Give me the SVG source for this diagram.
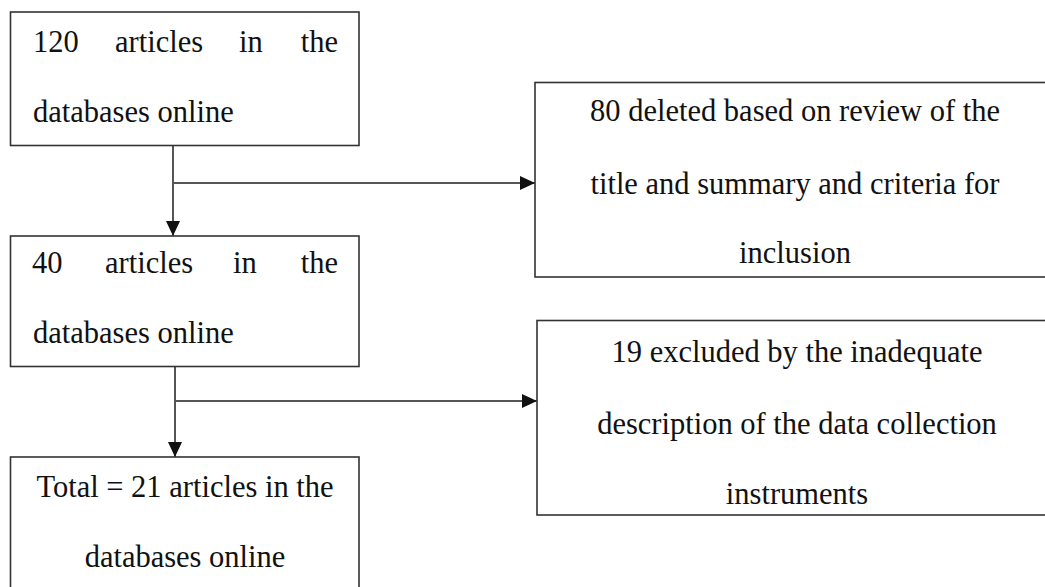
<svg xmlns="http://www.w3.org/2000/svg" width="1045" height="587" viewBox="0 0 1045 587">
<style>
.box{fill:#fff;stroke:#333;stroke-width:1.6}
.t{font-family:"Liberation Serif","Times New Roman",serif;font-size:30.5px;fill:#111}
.c{text-anchor:middle}
.e{text-anchor:end}
.ln{stroke:#555;stroke-width:2;fill:none}
</style>
<defs>
<marker id="ah" markerWidth="15" markerHeight="14" refX="15" refY="7" orient="auto" markerUnits="userSpaceOnUse">
<path d="M0,0 L15,7 L0,14 Z" fill="#111"/>
</marker>
</defs>
<rect width="1045" height="587" fill="#fff"/>
<g id="connectors">
<line class="ln" x1="173" y1="146" x2="173" y2="236" marker-end="url(#ah)"/>
<line class="ln" x1="173" y1="183" x2="535" y2="183" marker-end="url(#ah)"/>
<line class="ln" x1="175" y1="367" x2="175" y2="457" marker-end="url(#ah)"/>
<line class="ln" x1="175" y1="401" x2="537" y2="401" marker-end="url(#ah)"/>
</g>
<g id="node1">
<rect class="box" x="10.5" y="12" width="348.5" height="133.5"/>
<text class="t" x="33" y="52">120</text>
<text class="t" x="115" y="52">articles</text>
<text class="t" x="239" y="52">in</text>
<text class="t e" x="338" y="52">the</text>
<text class="t" x="33" y="122">databases online</text>
</g>
<g id="node2">
<rect class="box" x="10.5" y="236" width="348.5" height="130.5"/>
<text class="t" x="32" y="273">40</text>
<text class="t" x="105" y="273">articles</text>
<text class="t" x="233" y="273">in</text>
<text class="t e" x="338" y="273">the</text>
<text class="t" x="33" y="343">databases online</text>
</g>
<g id="node3">
<rect class="box" x="10.5" y="457" width="348.5" height="140"/>
<text class="t c" x="185" y="497">Total = 21 articles in the</text>
<text class="t c" x="185" y="567">databases online</text>
</g>
<g id="node4">
<rect class="box" x="535" y="82.5" width="520" height="194.5"/>
<text class="t c" x="795" y="121">80 deleted based on review of the</text>
<text class="t c" x="795" y="194">title and summary and criteria for</text>
<text class="t c" x="795" y="263">inclusion</text>
</g>
<g id="node5">
<rect class="box" x="537" y="320.5" width="520" height="194.5"/>
<text class="t c" x="797" y="362">19 excluded by the inadequate</text>
<text class="t c" x="797" y="434">description of the data collection</text>
<text class="t c" x="797" y="504">instruments</text>
</g>
</svg>
